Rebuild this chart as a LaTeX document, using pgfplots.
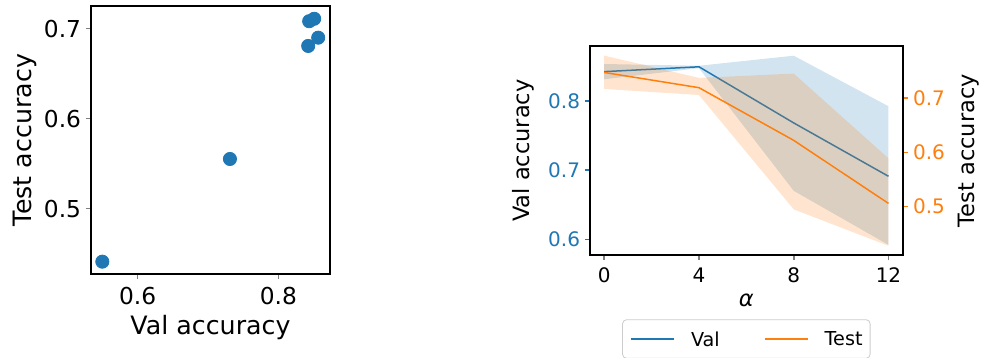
\documentclass[border=0pt]{standalone}
\usepackage{fontspec}
\setmainfont{DejaVu Sans}
\usepackage{pgfplots}
\pgfplotsset{compat=1.18}

\definecolor{tabblue}{RGB}{31,119,180}
\definecolor{taborange}{RGB}{255,127,14}

% font sizes
\newcommand\fLtick{\fontsize{11.65}{13}\selectfont}
\newcommand\fLlab{\fontsize{12.65}{14}\selectfont}
\newcommand\fRtick{\fontsize{10}{12}\selectfont}
\newcommand\fRlab{\fontsize{11.25}{13}\selectfont}
\newcommand\fLeg{\fontsize{9.6}{11}\selectfont}

\pgfplotsset{
  common/.style={
    scale only axis,
    axis line style={line width=0.8pt},
    tick align=outside,
    major tick length=2.5pt,
    major tick style={line width=0.8pt},
    /pgf/number format/assume math mode=true,
    ticklabel style={inner sep=0pt},
    label style={inner sep=0pt},
  },
}

\begin{document}
\begin{tikzpicture}
\useasboundingbox (0pt,0pt) rectangle (491pt,-179pt);

% scatter: val accuracy vs test accuracy
\begin{axis}[common,
  at={(45.5pt,-137pt)}, anchor=south west,
  width=119.5pt, height=134pt,
  xmin=0.5336, xmax=0.8735, ymin=0.4274, ymax=0.7252,
  xtick={0.6,0.8}, ytick={0.5,0.6,0.7},
  xtick pos=left, ytick pos=left,
  xticklabel shift=4pt, yticklabel shift=2.3pt,
  xticklabel style={font=\fLtick, /pgf/number format/fixed, /pgf/number format/precision=1},
  yticklabel style={font=\fLtick, /pgf/number format/fixed, /pgf/number format/precision=1},
  xlabel={Val accuracy}, ylabel={Test accuracy},
  xlabel style={font=\fLlab, at={(axis description cs:0.5,-0.2254)}, anchor=base},
  ylabel style={font=\fLlab, at={(axis description cs:-0.2506,0.5)}, anchor=base},
]
\addplot[only marks, mark=*, mark size=3.3pt, mark options={draw=tabblue, fill=tabblue}]
  coordinates {
    (0.5497,0.4411)
    (0.7312,0.5552)
    (0.8425,0.6808)
    (0.8567,0.6900)
    (0.8439,0.7083)
    (0.8510,0.7110)
  };
\end{axis}

% alpha sweep: validation accuracy (left axis)
\begin{axis}[common,
  at={(295pt,-127.65pt)}, anchor=south west,
  width=156.35pt, height=104.65pt,
  xmin=-0.6, xmax=12.6, ymin=0.577, ymax=0.879,
  xtick={0,4,8,12}, ytick={0.6,0.7,0.8},
  xtick pos=left, ytick pos=left,
  xticklabel shift=3.5pt, yticklabel shift=2.3pt,
  y tick style={color=tabblue},
  xticklabel style={font=\fRtick},
  yticklabel style={font=\fRtick, color=tabblue, /pgf/number format/fixed, /pgf/number format/precision=1},
  xlabel={\itshape α}, ylabel={Val accuracy},
  xlabel style={font=\fRlab, at={(axis description cs:0.5,-0.247)}, anchor=base},
  ylabel style={font=\fRlab, at={(axis description cs:-0.1928,0.5)}, anchor=base},
]
\addplot[draw=none, fill=tabblue, fill opacity=0.2]
  coordinates {(0,0.853) (4,0.8505) (8,0.865) (12,0.792)
               (12,0.592) (8,0.670) (4,0.847) (0,0.831)} -- cycle;
\addplot[tabblue, line width=0.75pt]
  coordinates {(0,0.842) (4,0.849) (8,0.768) (12,0.691)};
\end{axis}

% alpha sweep: test accuracy (right axis)
\begin{axis}[common,
  at={(295pt,-127.65pt)}, anchor=south west,
  width=156.35pt, height=104.65pt,
  hide x axis,
  xmin=-0.6, xmax=12.6, ymin=0.4105, ymax=0.7957,
  ytick={0.5,0.6,0.7},
  ytick pos=right, yticklabel pos=right,
  yticklabel shift=2.5pt,
  y tick style={color=taborange},
  yticklabel style={font=\fRtick, color=taborange, /pgf/number format/fixed, /pgf/number format/precision=1},
  ylabel={Test accuracy},
  ylabel style={font=\fRlab, at={(axis description cs:1.2303,0.5)}, anchor=base},
  legend columns=2,
  legend image code/.code={\draw[#1] (0pt,0pt) -- (21.7pt,0pt);},
  legend style={at={(0.5,-0.3058)}, anchor=north,
    draw=black!20, rounded corners=2pt, font=\fLeg,
    inner xsep=3.8pt, inner ysep=6pt,
    nodes={inner sep=0pt, text depth=0pt},
    /tikz/every odd column/.append style={column sep=8pt},
    /tikz/every even column/.append style={column sep=22pt}},
]
\addlegendimage{tabblue, line width=0.75pt}
\addlegendentry{Val}
\addplot[draw=none, fill=taborange, fill opacity=0.2, forget plot]
  coordinates {(0,0.778) (4,0.737) (8,0.745) (12,0.589)
               (12,0.428) (8,0.495) (4,0.7055) (0,0.7166)} -- cycle;
\addplot[taborange, line width=0.75pt]
  coordinates {(0,0.747) (4,0.719) (8,0.622) (12,0.506)};
\addlegendentry{Test}
\end{axis}
\end{tikzpicture}
\end{document}
